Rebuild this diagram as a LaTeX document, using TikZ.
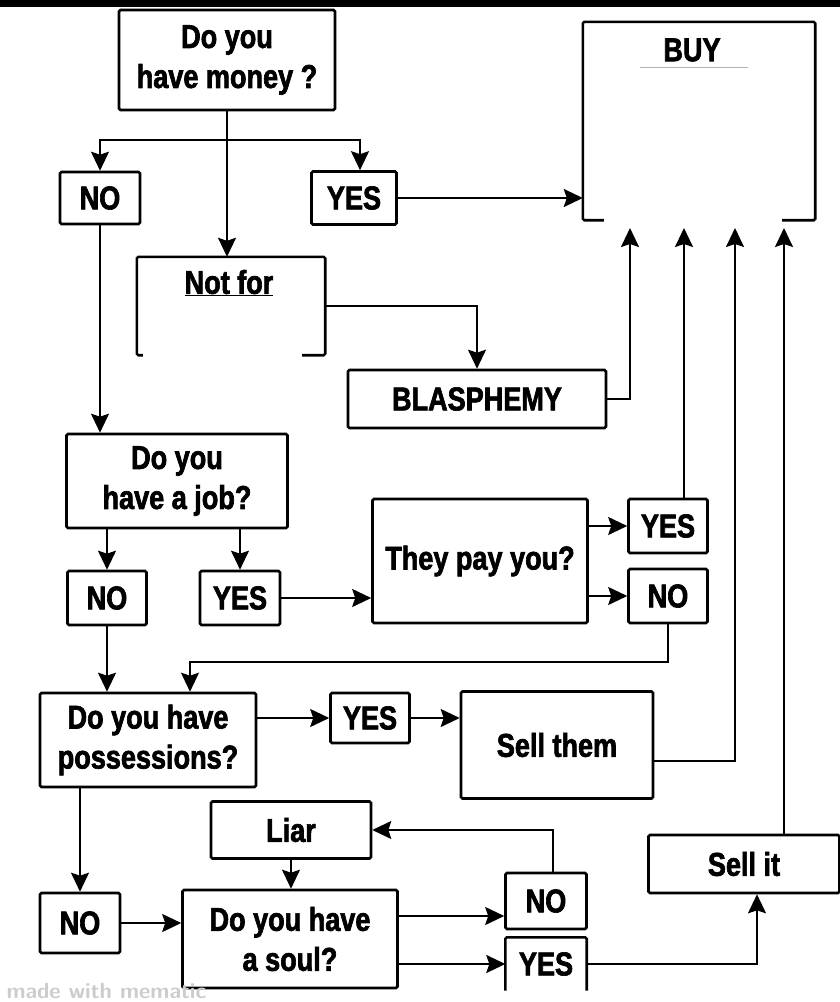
\documentclass[tikz,border=0pt]{standalone}
\usepackage{fontspec}
\newfontfamily\impact{Liberation Sans}[FakeStretch=0.82,BoldFeatures={FakeBold=2}]
\usetikzlibrary{arrows.meta}

\begin{document}
\begin{tikzpicture}[x=1pt,y=-1pt,
  every node/.style={font=\impact\bfseries\fontsize{33}{40}\selectfont},
  qbox/.style={draw,line width=2.6pt,rounded corners=1.5pt,inner sep=0pt,align=center},
  openbox/.style={inner sep=0pt},
  frame/.style={line width=2.6pt,rounded corners=1.5pt},
  arr/.style={line width=2pt,-{Stealth[length=19pt,width=18pt,inset=3pt]}},
  link/.style={line width=2pt}
]
  \useasboundingbox (0,0) rectangle (840,1002);
  \fill (0,0) rectangle (840,7);

  \node[qbox,minimum width=216,minimum height=100] (money) at (227,60) {Do you\\have money ?};
  \node[qbox,minimum width=80,minimum height=52] (no1) at (100,198) {NO};
  \node[qbox,minimum width=85,minimum height=53] (yes1) at (354,198) {YES};

  \node[openbox,minimum width=232,minimum height=198] (buy) at (699,121) {};
  \node (buyt) at (692,50) {BUY};
  \draw[frame] ([xshift=21pt]buy.south west) -- (buy.south west) -- (buy.north west)
    -- (buy.north east) -- (buy.south east) -- ([xshift=-33pt]buy.south east);
  \draw[gray!60,line width=0.8pt] (640,67) -- (748,67);
  \coordinate (in1) at (630,228);
  \coordinate (in2) at (684,228);
  \coordinate (in3) at (735,228);
  \coordinate (in4) at (784,228);

  \node[openbox,minimum width=188,minimum height=98] (notfor) at (231,306) {};
  \node (notfort) at (229,283) {\underline{Not for}};
  \draw[frame] ([xshift=6pt]notfor.south west) -- (notfor.south west) -- (notfor.north west)
    -- (notfor.north east) -- (notfor.south east) -- ([xshift=-23pt]notfor.south east);
  \node[qbox,minimum width=258,minimum height=58] (blas) at (477,399) {BLASPHEMY};

  \node[qbox,minimum width=221,minimum height=94] (job) at (177,481) {Do you\\have a job?};
  \node[qbox,minimum width=79,minimum height=54] (no2) at (107,598) {NO};
  \node[qbox,minimum width=80,minimum height=54] (yes2) at (240,598) {YES};
  \node[qbox,minimum width=215,minimum height=124] (pay) at (480,561) {They pay you?};
  \node[qbox,minimum width=79,minimum height=54] (yesp) at (668,526) {YES};
  \node[qbox,minimum width=79,minimum height=54] (nop) at (668,596) {NO};
  \coordinate (ret) at (190,662);

  \node[qbox,minimum width=216,minimum height=94] (poss) at (148,740) {Do you have\\possessions?};
  \node[qbox,minimum width=79,minimum height=50] (yes3) at (370,718) {YES};
  \node[qbox,minimum width=192,minimum height=107] (sellthem) at (557,745) {Sell them};

  \node[qbox,minimum width=160,minimum height=57] (liar) at (291,830) {Liar};
  \node[qbox,minimum width=80,minimum height=60] (no4) at (80,923) {NO};
  \node[qbox,minimum width=215,minimum height=98] (soul) at (290,939) {Do you have\\a soul?};
  \node[qbox,minimum width=81,minimum height=56] (nos) at (546,901) {NO};
  \node[openbox,minimum width=81,minimum height=53] (yess) at (546,964) {YES};
  \draw[frame] (yess.south west) -- (yess.north west) -- (yess.north east) -- (yess.south east);
  \node[qbox,minimum width=191,minimum height=58] (sellit) at (744,864) {Sell it};

  \node[anchor=south west,text=gray!40,font=\sffamily\bfseries\fontsize{22}{22}\selectfont] (mark) at (3,1002) {made with mematic};

  \coordinate (split) at (227,140);
  \draw[link] (money.south) -- (split);
  \draw[arr] (split) -| (no1.north);
  \draw[arr] (split) -| ([xshift=6pt]yes1.north);
  \draw[arr] (split) -- (split |- notfor.north);
  \draw[arr] (yes1.east) -- (yes1.east -| buy.west);
  \draw[arr] (notfor.east) -| (blas.north);
  \draw[arr] (blas.east) -| (in1);

  \draw[arr] (no1.south) -- (no1.south |- job.north);
  \draw[arr] (no2.north |- job.south) -- (no2.north);
  \draw[arr] (yes2.north |- job.south) -- (yes2.north);
  \draw[arr] (yes2.east) -- (yes2.east -| pay.west);
  \draw[arr] (pay.east |- yesp.west) -- (yesp.west);
  \draw[arr] (pay.east |- nop.west) -- (nop.west);
  \draw[arr] (yesp.north -| in2) -- (in2);
  \draw[arr] (nop.south) |- (ret) -- (ret |- poss.north);
  \draw[arr] (no2.south) -- (no2.south |- poss.north);

  \draw[arr] (poss.east |- yes3.west) -- (yes3.west);
  \draw[arr] (yes3.east) -- (yes3.east -| sellthem.west);
  \draw[arr] ([yshift=-16pt]sellthem.east) -| (in3);
  \draw[arr] (poss.south -| no4.north) -- (no4.north);

  \draw[arr] (no4.east) -- (no4.east -| soul.west);
  \draw[arr] (liar.south) -- (liar.south |- soul.north);
  \draw[arr] ([yshift=-15pt]nos.west -| soul.east) -- ([yshift=-15pt]nos.west);
  \draw[arr] (soul.east |- yess.west) -- (yess.west);
  \draw[arr] ([xshift=7pt]nos.north) |- (liar.east);
  \draw[arr] (yess.east) -| ([xshift=13pt]sellit.south);
  \draw[arr] (sellit.north -| in4) -- (in4);
\end{tikzpicture}
\end{document}
